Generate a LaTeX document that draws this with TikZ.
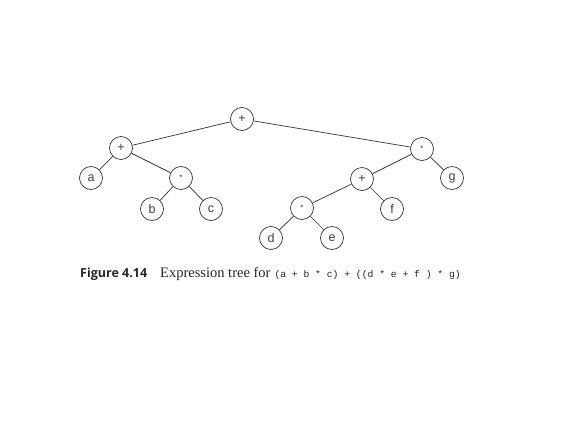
\documentclass[tikz,border=0pt]{standalone}
\usepackage{fontspec}
\setmainfont{Liberation Serif}
\setsansfont{Liberation Sans}
\setmonofont{Liberation Mono}
\newfontfamily\capfont{Open Sans}
\begin{document}
\begin{tikzpicture}[x=1pt,y=-1pt,
  tn/.style={circle,draw=black!80,fill=white,line width=0.7pt,minimum size=23pt,inner sep=0pt,font=\sffamily\fontsize{12.5}{12.5}\selectfont,text=black!75},
  edge/.style={draw=black!80,line width=0.7pt}]
\path[fill=white] (0,0) rectangle (576,432);
\useasboundingbox (0,0) rectangle (576,432);
\node[tn] (r) at (242,119) {+};
\node[tn] (l) at (121,148) {+};
\node[tn] (a) at (91,178) {a};
\node[tn] (m1) at (181,178) {\fontsize{8}{8}\selectfont *};
\node[tn] (b) at (152,209) {b};
\node[tn] (c) at (211,209) {c};
\node[tn] (m2) at (422,149) {\fontsize{8}{8}\selectfont *};
\node[tn] (p2) at (362,179) {+};
\node[tn] (g) at (452,178) {g};
\node[tn] (m3) at (302,208) {\fontsize{8}{8}\selectfont *};
\node[tn] (f) at (392,209) {f};
\node[tn] (d) at (271,238) {d};
\node[tn] (e) at (332,238) {e};
\draw[edge] (r) -- (l) (r) -- (m2) (l) -- (a) (l) -- (m1) (m1) -- (b) (m1) -- (c)
  (m2) -- (p2) (m2) -- (g) (p2) -- (m3) (p2) -- (f) (m3) -- (d) (m3) -- (e);
\node[anchor=base west,inner sep=0pt,text=black!85] (cap) at (80,277)
  {{\capfont\bfseries\fontsize{12.5}{12.5}\selectfont Figure 4.14}\hspace{13pt}{\fontsize{14.5}{14.5}\selectfont Expression tree for}\hspace{4pt}{\ttfamily\fontsize{9.7}{9.7}\selectfont (a + b * c) + ((d * e + f ) * g)}};
\end{tikzpicture}
\end{document}
